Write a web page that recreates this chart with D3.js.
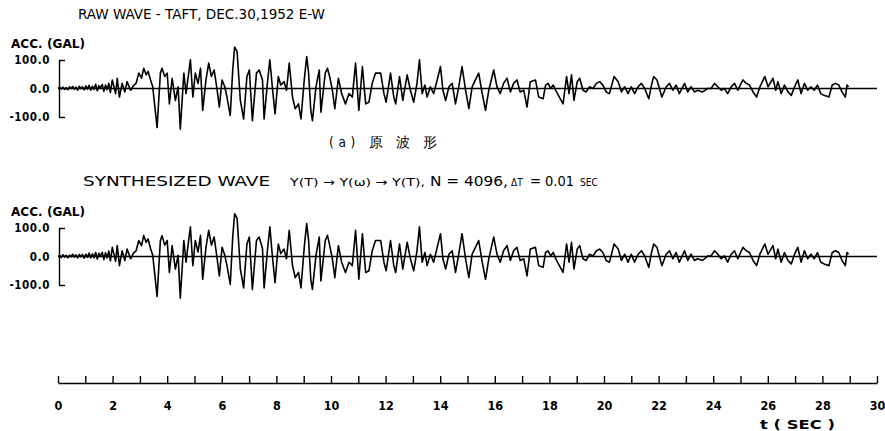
<!DOCTYPE html>
<html>
<head>
<meta charset="utf-8">
<script src="https://cdn.jsdelivr.net/npm/d3@7"></script>
<style>
  body { margin: 0; background: #fff; }
  svg { display: block; }
  .plot text { font-family: "DejaVu Sans Condensed", sans-serif; fill: #000; }
</style>
</head>
<body>
<svg id="chart" width="885" height="431"></svg>
<script>
// accelerogram turning points: [time (sec), acc (gal)]
var rawWave = [
 [0,0],[0.06,4],[0.12,-2],[0.18,5],[0.24,-3],[0.3,3],[0.36,-4],[0.42,6],[0.48,0],[0.54,7],
 [0.6,-3],[0.66,5],[0.72,-6],[0.78,8],[0.84,0],[0.9,6],[0.96,-5],[1.02,9],[1.08,-2],[1.14,11],
 [1.2,-6],[1.26,8],[1.32,-3],[1.38,15],[1.44,-8],[1.5,10],[1.56,2],[1.62,14],[1.68,-10],[1.74,12],
 [1.8,-4],[1.86,18],[1.92,-14],[1.99,30],[2.11,-18],[2.17,36],[2.25,-30],[2.35,18],[2.45,-12],[2.53,24],
 [2.66,-6],[2.78,12],[2.86,18],[2.96,54],[3.06,36],[3.14,71],[3.23,48],[3.3,60],[3.39,30],[3.47,6],
 [3.63,-137],[3.75,54],[3.81,71],[3.91,42],[4,54],[4.08,-54],[4.18,36],[4.3,-42],[4.4,6],[4.48,-143],
 [4.61,54],[4.69,-18],[4.77,42],[4.85,101],[4.94,-30],[5.03,54],[5.13,18],[5.22,71],[5.3,-77],[5.42,30],
 [5.52,89],[5.62,42],[5.72,65],[5.83,-6],[5.91,-65],[6.01,30],[6.11,6],[6.19,-30],[6.31,-95],[6.4,65],
 [6.47,145],[6.56,130],[6.68,-42],[6.8,-107],[6.92,42],[7.01,65],[7.12,-113],[7.27,54],[7.37,65],[7.49,30],
 [7.55,-107],[7.67,18],[7.76,101],[7.85,6],[7.95,-89],[8.07,42],[8.16,12],[8.28,24],[8.37,-6],[8.47,89],
 [8.59,-30],[8.69,-71],[8.81,-54],[8.9,-107],[9.02,30],[9.11,112],[9.18,54],[9.26,-77],[9.32,-113],[9.45,6],
 [9.57,65],[9.63,-83],[9.79,54],[9.87,71],[9.95,42],[10.05,-6],[10.14,-71],[10.27,36],[10.39,-18],[10.53,-54],
 [10.66,-18],[10.78,-30],[10.9,89],[11.02,-77],[11.15,77],[11.27,-54],[11.39,-48],[11.51,18],[11.63,54],[11.82,54],
 [11.94,-18],[12.02,-48],[12.18,54],[12.3,-30],[12.37,-54],[12.51,42],[12.63,-42],[12.79,48],[12.91,-6],[13.03,-48],
 [13.15,18],[13.24,101],[13.34,-18],[13.44,12],[13.52,-30],[13.64,6],[13.76,-18],[13.89,30],[14.01,77],[14.1,-6],
 [14.2,-42],[14.32,6],[14.44,18],[14.56,-54],[14.68,6],[14.8,77],[14.93,-6],[15.05,-71],[15.17,6],[15.29,30],
 [15.41,54],[15.54,-18],[15.66,-77],[15.78,-6],[15.96,65],[16.08,6],[16.2,-18],[16.32,18],[16.45,36],[16.57,-12],
 [16.69,18],[16.81,30],[16.93,-12],[17.06,-6],[17.18,-65],[17.3,24],[17.49,30],[17.61,-30],[17.77,-36],[17.86,12],
 [17.95,18],[18.05,0],[18.14,12],[18.26,-12],[18.5,-54],[18.63,42],[18.72,-18],[18.81,48],[18.9,-42],[19.02,24],
 [19.11,36],[19.23,-6],[19.35,-12],[19.47,6],[19.6,0],[19.72,18],[19.84,24],[19.96,12],[20.08,-12],[20.2,-18],
 [20.37,42],[20.52,24],[20.64,-12],[20.76,6],[20.88,-18],[21,6],[21.12,-18],[21.25,6],[21.37,18],[21.49,0],
 [21.64,-36],[21.74,12],[21.82,42],[21.94,30],[22.12,-30],[22.28,6],[22.4,18],[22.52,-6],[22.64,12],[22.76,-18],
 [22.95,18],[23.07,-12],[23.19,6],[23.31,-12],[23.43,-6],[23.61,-12],[23.8,0],[23.92,0],[24.05,18],[24.17,6],
 [24.29,-6],[24.41,0],[24.53,-18],[24.66,6],[24.78,18],[24.9,-6],[25.09,30],[25.21,18],[25.33,12],[25.46,-12],
 [25.59,-30],[25.71,6],[25.89,42],[26.01,6],[26.19,36],[26.29,-6],[26.37,24],[26.49,-18],[26.61,12],[26.74,-12],
 [26.86,-24],[26.98,6],[27.1,30],[27.22,-18],[27.34,18],[27.46,-6],[27.58,6],[27.7,-6],[27.82,12],[27.94,-18],
 [28.06,-24],[28.24,-30],[28.36,12],[28.48,18],[28.6,12],[28.72,-12],[28.84,-30],[28.9,12],[28.96,6]
];

var synWave = [
 [0,0],[0.06,3],[0.12,-3],[0.18,6],[0.24,-2],[0.3,4],[0.36,-5],[0.42,5],[0.48,-1],[0.54,8],
 [0.6,-2],[0.66,6],[0.72,-5],[0.78,7],[0.84,-1],[0.9,7],[0.96,-6],[1.02,8],[1.08,-3],[1.14,12],
 [1.2,-5],[1.26,9],[1.32,-4],[1.38,14],[1.44,-9],[1.5,11],[1.56,1],[1.62,15],[1.68,-11],[1.74,13],
 [1.8,-5],[1.86,19],[1.92,-15],[1.99,32],[2.11,-17],[2.17,38],[2.25,-32],[2.35,20],[2.45,-14],[2.53,26],
 [2.66,-8],[2.78,14],[2.86,20],[2.96,56],[3.06,38],[3.14,74],[3.23,50],[3.3,62],[3.39,28],[3.47,4],
 [3.63,-140],[3.75,56],[3.81,73],[3.91,40],[4,56],[4.08,-56],[4.18,38],[4.3,-44],[4.4,4],[4.48,-146],
 [4.61,56],[4.69,-20],[4.77,44],[4.85,104],[4.94,-32],[5.03,56],[5.13,16],[5.22,74],[5.3,-80],[5.42,32],
 [5.52,92],[5.62,40],[5.72,68],[5.83,-8],[5.91,-68],[6.01,32],[6.11,4],[6.19,-32],[6.31,-98],[6.4,68],
 [6.47,150],[6.56,134],[6.68,-44],[6.8,-110],[6.92,44],[7.01,68],[7.12,-116],[7.27,56],[7.37,68],[7.49,28],
 [7.55,-110],[7.67,20],[7.76,104],[7.85,4],[7.95,-92],[8.07,44],[8.16,10],[8.28,26],[8.37,-8],[8.47,92],
 [8.59,-32],[8.69,-74],[8.81,-56],[8.9,-110],[9.02,32],[9.11,116],[9.18,56],[9.26,-80],[9.32,-116],[9.45,4],
 [9.57,68],[9.63,-86],[9.79,56],[9.87,74],[9.95,40],[10.05,-8],[10.14,-74],[10.27,38],[10.39,-20],[10.53,-56],
 [10.66,-20],[10.78,-32],[10.9,92],[11.02,-80],[11.15,80],[11.27,-56],[11.39,-50],[11.51,20],[11.63,56],[11.82,56],
 [11.94,-20],[12.02,-50],[12.18,56],[12.3,-32],[12.37,-56],[12.51,44],[12.63,-44],[12.79,50],[12.91,-8],[13.03,-50],
 [13.15,20],[13.24,104],[13.34,-20],[13.44,14],[13.52,-32],[13.64,8],[13.76,-20],[13.89,32],[14.01,80],[14.1,-8],
 [14.2,-44],[14.32,8],[14.44,20],[14.56,-56],[14.68,8],[14.8,80],[14.93,-8],[15.05,-74],[15.17,8],[15.29,32],
 [15.41,56],[15.54,-20],[15.66,-80],[15.78,-8],[15.96,68],[16.08,8],[16.2,-20],[16.32,20],[16.45,38],[16.57,-14],
 [16.69,20],[16.81,32],[16.93,-14],[17.06,-8],[17.18,-68],[17.3,26],[17.49,32],[17.61,-32],[17.77,-38],[17.86,14],
 [17.95,20],[18.05,2],[18.14,14],[18.26,-14],[18.5,-56],[18.63,44],[18.72,-20],[18.81,50],[18.9,-44],[19.02,26],
 [19.11,38],[19.23,-8],[19.35,-14],[19.47,8],[19.6,2],[19.72,20],[19.84,26],[19.96,14],[20.08,-14],[20.2,-20],
 [20.37,44],[20.52,26],[20.64,-14],[20.76,8],[20.88,-20],[21,8],[21.12,-20],[21.25,8],[21.37,20],[21.49,2],
 [21.64,-38],[21.74,14],[21.82,44],[21.94,32],[22.12,-32],[22.28,8],[22.4,20],[22.52,-8],[22.64,14],[22.76,-20],
 [22.95,20],[23.07,-14],[23.19,8],[23.31,-14],[23.43,-8],[23.61,-14],[23.8,2],[23.92,2],[24.05,20],[24.17,8],
 [24.29,-8],[24.41,2],[24.53,-20],[24.66,8],[24.78,20],[24.9,-8],[25.09,32],[25.21,20],[25.33,14],[25.46,-14],
 [25.59,-32],[25.71,8],[25.89,44],[26.01,8],[26.19,38],[26.29,-8],[26.37,26],[26.49,-20],[26.61,14],[26.74,-14],
 [26.86,-26],[26.98,8],[27.1,32],[27.22,-20],[27.34,20],[27.46,-8],[27.58,8],[27.7,-8],[27.82,14],[27.94,-20],
 [28.06,-26],[28.24,-32],[28.36,14],[28.48,20],[28.6,14],[28.72,-14],[28.84,-32],[28.9,14],[28.96,8]
];

var accTicks = [-100, 0, 100];
var timeTicksMinor = d3.range(0, 31, 1);
var timeTicksMajor = d3.range(0, 31, 2);

var svg = d3.select("#chart").attr("class", "plot");
svg.append("rect").attr("width", 885).attr("height", 431).attr("fill", "#fff");

var x = d3.scaleLinear().domain([0, 30]).range([58, 877]);

// one panel per wave; zero = pixel row of the 0.0 line
function panel(data, zero) {
    var y = d3.scaleLinear().domain([-100, 100]).range([zero + 29, zero - 28]);
    var g = svg.append("g");

    // bracket shaped axis
    g.append("g")
        .attr("transform", "translate(59,0)")
        .call(d3.axisRight(y).tickValues([-100, 100]).tickSize(6).tickSizeOuter(0).tickFormat(""))
        .call(a => a.selectAll("path,line").attr("stroke", "#000").attr("stroke-width", 1.4));

    g.append("g")
        .attr("transform", "translate(59,0)")
        .call(d3.axisLeft(y).tickValues(accTicks).tickSize(0).tickPadding(9).tickFormat(d => d.toFixed(1)))
        .call(a => a.select(".domain").remove())
        .call(a => a.selectAll("text").attr("font-size", 11.5).attr("font-weight", "bold")
            .attr("letter-spacing", 0.6)
            .attr("font-family", "'DejaVu Sans Condensed', sans-serif"));

    g.append("line")
        .attr("x1", x(0)).attr("x2", x(30))
        .attr("y1", y(0)).attr("y2", y(0))
        .attr("stroke", "#000").attr("stroke-width", 1.4);

    g.append("path")
        .datum(data)
        .attr("fill", "none")
        .attr("stroke", "#000")
        .attr("stroke-width", 1.6)
        .attr("stroke-linejoin", "round")
        .attr("d", d3.line().x(d => x(d[0])).y(d => y(d[1])));

    g.append("text").attr("x", 11).attr("y", zero - 40)
        .attr("font-size", 11.5).attr("font-weight", "bold")
        .attr("textLength", 74).attr("lengthAdjust", "spacingAndGlyphs")
        .text("ACC. (GAL)");
    return g;
}

panel(rawWave, 88);
panel(synWave, 256);

// titles
svg.append("text").attr("x", 78).attr("y", 19)
    .attr("font-size", 14).attr("textLength", 247).attr("lengthAdjust", "spacingAndGlyphs")
    .text("RAW WAVE - TAFT, DEC.30,1952 E-W");

svg.append("text").attr("x", 329).attr("y", 147)
    .attr("font-family", "'Noto Sans CJK JP', sans-serif").attr("font-size", 13.5)
    .attr("textLength", 108).attr("lengthAdjust", "spacing")
    .text("(a) 原 波 形");

var st = svg.append("text").attr("y", 186);
st.append("tspan").attr("x", 83).attr("font-size", 14)
    .attr("textLength", 187).attr("lengthAdjust", "spacingAndGlyphs").text("SYNTHESIZED WAVE");
st.append("tspan").attr("x", 290).attr("font-size", 11)
    .attr("textLength", 135).attr("lengthAdjust", "spacingAndGlyphs").text("Y(T) \u2192 Y(\u03c9) \u2192 Y(T),");
st.append("tspan").attr("x", 430).attr("font-size", 14)
    .attr("textLength", 78).attr("lengthAdjust", "spacingAndGlyphs").text("N = 4096,");
st.append("tspan").attr("x", 511).attr("font-size", 10).text("\u0394T");
st.append("tspan").attr("x", 530).attr("font-size", 14)
    .attr("textLength", 44).attr("lengthAdjust", "spacingAndGlyphs").text("= 0.01");
st.append("tspan").attr("x", 580).attr("font-size", 10).text("SEC");

// time axis: ticks up every second, labels every 2 seconds
svg.append("g")
    .attr("transform", "translate(0,383)")
    .call(d3.axisTop(x).tickValues(timeTicksMinor).tickSize(7).tickSizeOuter(0).tickFormat(""))
    .call(a => a.selectAll("path,line").attr("stroke", "#000").attr("stroke-width", 1.4));

svg.append("g")
    .attr("transform", "translate(0,383)")
    .call(d3.axisBottom(x).tickValues(timeTicksMajor).tickSize(0).tickPadding(18))
    .call(a => a.select(".domain").remove())
    .call(a => a.selectAll("text").attr("font-size", 12.5).attr("font-weight", "bold")
        .attr("font-family", "'DejaVu Sans Condensed', sans-serif"));

svg.append("text").attr("x", 760).attr("y", 429)
    .attr("font-size", 12).attr("font-weight", "bold")
    .attr("textLength", 75).attr("lengthAdjust", "spacingAndGlyphs")
    .text("t ( SEC )");
</script>
</body>
</html>
